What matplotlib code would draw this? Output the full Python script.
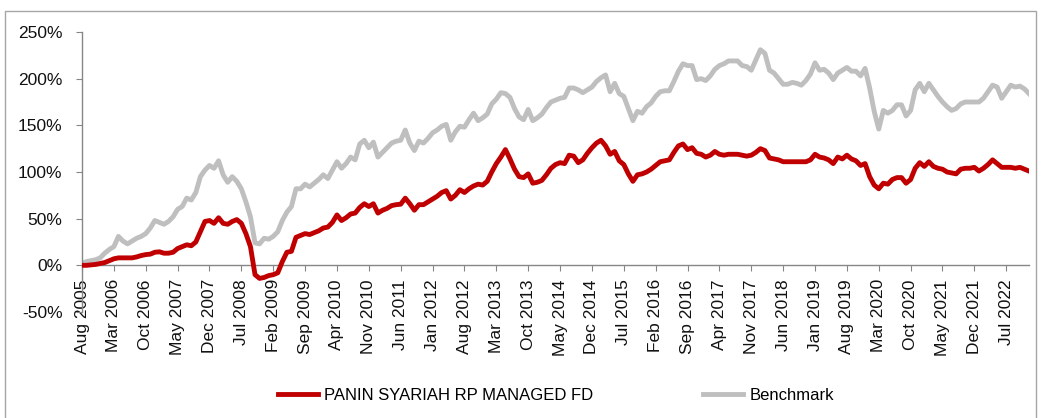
import matplotlib
matplotlib.use("Agg")
import matplotlib.pyplot as plt
from matplotlib.patches import Rectangle
import pandas as pd

# Monthly categories: Aug 2005 .. Dec 2022
months = pd.date_range("2005-08-01", "2022-12-01", freq="MS")

fund = [
    0, 0, 0.5, 1, 2, 3, 5, 7, 8, 8,
    8, 8, 9, 10.5, 11.5, 12, 14, 14.5, 13, 13,
    14, 18, 20, 22, 21, 25, 36, 47, 48, 45,
    51, 45, 44, 47, 49, 45, 34, 20, -10, -14,
    -13, -11, -10, -8, 4, 14, 15, 30, 32, 34,
    33, 35, 37, 40, 41, 46, 54, 48, 51, 55,
    56, 62, 66, 63, 66, 56, 59, 61, 64, 65,
    65.5, 72, 66, 59, 65, 65, 68, 71, 74, 78,
    80, 71, 75, 81, 78, 82, 85, 87, 86, 90,
    100, 109, 116, 124, 114, 103, 95, 94, 98, 88,
    89, 91, 97, 104, 108, 110, 109, 118, 117, 110,
    113, 120, 126, 131, 134, 128, 119, 122, 112, 108,
    98, 90, 97, 98, 100, 103, 107, 111, 112, 113,
    121, 128, 130, 124, 126, 120, 119, 116, 118, 122,
    119, 118, 119, 119, 119, 118, 117, 118, 121, 125,
    123, 115, 114, 113, 111, 111, 111, 111, 111, 111,
    113, 119, 116, 115, 113, 109, 116, 114, 118, 114,
    112, 107, 109, 95, 86, 82, 88, 87, 92, 94,
    94, 88, 92, 104, 110, 106, 111, 106, 104, 103,
    100, 99, 98, 103, 104, 104, 105, 101, 104, 108,
    113, 109, 105, 105, 105, 104, 105, 103, 101,
]

benchmark = [
    2, 4, 5, 6, 8, 13, 17, 20, 31, 26,
    23, 26, 29, 31, 34, 40, 48, 46, 44, 47,
    52, 60, 63, 72, 70, 78, 95, 102, 107, 104,
    112, 97, 89, 95, 90, 82, 68, 52, 24, 23,
    29, 28, 31, 36, 48, 57, 63, 82, 82, 87,
    84, 88, 92, 97, 93, 102, 111, 104, 109, 116,
    113, 130, 134, 126, 132, 116, 121, 126, 131, 133,
    134, 145, 131, 123, 133, 131, 136, 142, 145, 149,
    151, 134, 143, 149, 148, 156, 163, 155, 158, 162,
    173, 178, 185, 184, 180, 168, 159, 156, 167, 155,
    158, 162, 169, 175, 177, 179, 180, 190, 190, 188,
    185, 188, 191, 197, 201, 204, 186, 195, 184, 181,
    168, 155, 165, 163, 170, 174, 181, 186, 187, 187,
    197, 208, 216, 214, 214, 199, 200, 198, 203, 210,
    214, 216, 219, 219, 219, 214, 213, 209, 220, 231,
    227, 209, 206, 200, 194, 194, 196, 195, 193, 198,
    205, 217, 209, 210, 206, 199, 206, 209, 212, 208,
    208, 203, 211, 190, 165, 146, 166, 163, 166, 172,
    172, 160, 166, 188, 195, 186, 195, 188, 181, 175,
    170, 166, 168, 173, 175, 175, 175, 175, 179, 186,
    193, 191, 179, 186, 193, 191, 192, 189, 184,
]

tick_labels = [
    "Aug 2005", "Mar 2006", "Oct 2006", "May 2007", "Dec 2007", "Jul 2008",
    "Feb 2009", "Sep 2009", "Apr 2010", "Nov 2010", "Jun 2011", "Jan 2012",
    "Aug 2012", "Mar 2013", "Oct 2013", "May 2014", "Dec 2014", "Jul 2015",
    "Feb 2016", "Sep 2016", "Apr 2017", "Nov 2017", "Jun 2018", "Jan 2019",
    "Aug 2019", "Mar 2020", "Oct 2020", "May 2021", "Dec 2021", "Jul 2022",
]
y_ticks = [-50, 0, 50, 100, 150, 200, 250]

series_names = ["PANIN SYARIAH RP MANAGED FD", "Benchmark"]

plt.rcParams["font.family"] = ["Liberation Sans", "DejaVu Sans"]

W, H = 1041, 418
fig = plt.figure(figsize=(W / 100, H / 100), dpi=100)
ax = fig.add_axes([82 / W, (H - 312) / H, (1029 - 82) / W, (312 - 32) / H])

x = list(range(len(months)))
ax.plot(x, fund, color="#C00000", lw=3.5, solid_joinstyle="round",
        label=series_names[0], zorder=3)
ax.plot(x, benchmark, color="#BFBFBF", lw=3.5, solid_joinstyle="round",
        label=series_names[1], zorder=2)

ax.set_xlim(0, len(months) - 1)
ax.set_ylim(-50, 250)

spine_col = "#868686"
for s in ["top", "right"]:
    ax.spines[s].set_visible(False)
ax.spines["left"].set_color(spine_col)
ax.spines["bottom"].set_color(spine_col)
ax.spines["left"].set_linewidth(1.0)
ax.spines["bottom"].set_linewidth(1.0)
ax.spines["bottom"].set_position(("data", 0))

ax.set_yticks(y_ticks)
ax.set_yticklabels([f"{v}%" for v in y_ticks])
ax.set_xticks([7 * k for k in range(len(tick_labels))])
ax.set_xticklabels(tick_labels, rotation=90, ha="center", va="top")

ax.tick_params(axis="y", direction="out", length=4, color=spine_col,
               labelsize=12.5, pad=10, labelcolor="#111111")
ax.tick_params(axis="x", direction="out", length=4, color=spine_col,
               labelsize=12.5, pad=6, labelcolor="#111111")

leg = fig.legend(loc="center", bbox_to_anchor=(556 / W, (H - 395) / H),
                 ncol=2, frameon=False, fontsize=12, handlelength=2.4,
                 handletextpad=0.35, columnspacing=6.6)

# outer chart border
fig.patches.append(Rectangle((5 / W, -0.05), (1036 - 5) / W, (H - 11) / H + 0.05,
                             transform=fig.transFigure, fill=False,
                             edgecolor="#A6A6A6", lw=1.0))

fig.savefig("out.png", dpi=100)
